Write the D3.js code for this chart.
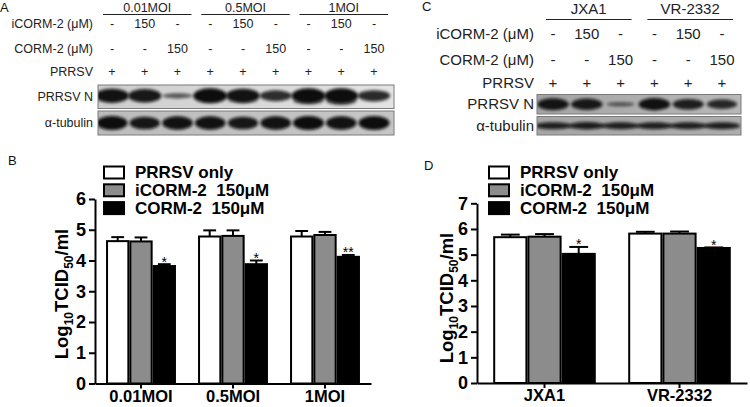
<!DOCTYPE html>
<html><head><meta charset="utf-8">
<script src="https://cdn.jsdelivr.net/npm/d3@7"></script>
<style>
body{margin:0;background:#fff}
svg{display:block}
text{font-family:"Liberation Sans",Arial,sans-serif;white-space:pre}
</style>
</head><body>
<svg id="fig" width="750" height="407"></svg>
<script>
// ---------------- DATA ----------------
const seriesNames = ["PRRSV only", "iCORM-2  150μM", "CORM-2  150μM"];
const seriesFill = ["#ffffff", "#8c8c8c", "#000000"];

const groupsB = ["0.01MOI", "0.5MOI", "1MOI"];
const prrsvOnlyB = [4.63, 4.78, 4.78];
const prrsvOnlyErrB = [0.13, 0.20, 0.18];
const icormB = [4.62, 4.80, 4.83];
const icormErrB = [0.13, 0.18, 0.10];
const cormB = [3.82, 3.88, 4.12];
const cormErrB = [0.06, 0.12, 0.06];
const sigB = ["*", "*", "**"];
const yTicksB = [0, 1, 2, 3, 4, 5, 6];

const strainsD = ["JXA1", "VR-2332"];
const prrsvOnlyD = [5.68, 5.82];
const prrsvOnlyErrD = [0.10, 0.07];
const icormD = [5.70, 5.82];
const icormErrD = [0.10, 0.08];
const cormD = [5.03, 5.26];
const cormErrD = [0.27, 0.02];
const sigD = ["*", "*"];
const yTicksD = [0, 1, 2, 3, 4, 5, 6, 7];

const yTitleMain = ["Log", "10", "TCID", "50", "/ml"];

// Western blot A
const blotGroupsA = ["0.01MOI", "0.5MOI", "1MOI"];
const rowLabels = ["iCORM-2 (μM)", "CORM-2 (μM)", "PRRSV", "PRRSV N", "α-tubulin"];
const icormLanesA = ["-", "150", "-", "-", "150", "-", "-", "150", "-"];
const cormLanesA = ["-", "-", "150", "-", "-", "150", "-", "-", "150"];
const prrsvLanesA = ["+", "+", "+", "+", "+", "+", "+", "+", "+"];
const bandN_A = [0.95, 0.9, 0.35, 1.0, 0.95, 0.72, 1.0, 1.0, 0.75];
const smearN_A = [0.1, 0.1, 0.0, 0.2, 0.35, 0.1, 0.6, 0.7, 0.1];
const bandTub_A = [1.0, 0.9, 0.95, 0.95, 0.9, 0.95, 1.0, 0.95, 1.0];

// Western blot C
const blotGroupsC = ["JXA1", "VR-2332"];
const icormLanesC = ["-", "150", "-", "-", "150", "-"];
const cormLanesC = ["-", "-", "150", "-", "-", "150"];
const prrsvLanesC = ["+", "+", "+", "+", "+", "+"];
const bandN_C = [0.92, 0.88, 0.3, 0.95, 0.82, 0.72];
const bandTub_C = [0.8, 0.82, 0.8, 0.8, 0.8, 0.8];

// ---------------- DRAW ----------------
const svg = d3.select("#fig");
svg.append("rect").attr("width", 750).attr("height", 407).attr("fill", "#fff");

const defs = svg.append("defs");
defs.append("filter").attr("id", "blur").attr("x", "-50%").attr("y", "-100%")
  .attr("width", "200%").attr("height", "300%")
  .append("feGaussianBlur").attr("stdDeviation", 1.7);

function panelLetter(t, x, y) {
  svg.append("text").attr("x", x).attr("y", y).attr("font-size", 13).attr("fill", "#111").text(t);
}

// ---------- blot panel ----------
function drawBlot(cfg) {
  const g = svg.append("g");
  const lx = d3.scalePoint().domain(d3.range(cfg.icorm.length)).range(cfg.laneRange);
  const fs = cfg.fontSize;
  cfg.groups.forEach((name, gi) => {
    const first = lx(gi * 3), last = lx(gi * 3 + 2);
    const x0 = first + cfg.lineExt[0], x1 = last + cfg.lineExt[1];
    g.append("line").attr("x1", x0).attr("x2", x1).attr("y1", cfg.lineY).attr("y2", cfg.lineY)
      .attr("stroke", "#222").attr("stroke-width", 1.2);
    g.append("text").attr("x", (x0 + x1) / 2).attr("y", cfg.headerY).attr("text-anchor", "middle")
      .attr("font-size", cfg.headerSize).attr("fill", "#222").text(name);
  });
  const rowsY = cfg.rowsY;
  rowLabels.forEach((lab, i) => {
    g.append("text").attr("x", cfg.labelX).attr("y", rowsY[i]).attr("text-anchor", "end")
      .attr("dominant-baseline", "central").attr("font-size", fs).attr("fill", "#222").text(lab);
  });
  [cfg.icorm, cfg.corm, cfg.prrsv].forEach((arr, ri) => {
    arr.forEach((v, li) => {
      g.append("text").attr("x", lx(li)).attr("y", rowsY[ri]).attr("text-anchor", "middle")
        .attr("dominant-baseline", "central").attr("font-size", fs).attr("fill", "#222").text(v);
    });
  });
  cfg.boxes.forEach((b, bi) => {
    const id = cfg.id + "clip" + bi;
    defs.append("clipPath").attr("id", id).append("rect")
      .attr("x", cfg.boxX[0]).attr("y", b.y0).attr("width", cfg.boxX[1] - cfg.boxX[0]).attr("height", b.y1 - b.y0);
    const gid = cfg.id + "grad" + bi;
    const gr = defs.append("linearGradient").attr("id", gid);
    gr.append("stop").attr("offset", "0%").attr("stop-color", b.bg[0]);
    gr.append("stop").attr("offset", "100%").attr("stop-color", b.bg[1]);
    g.append("rect").attr("x", cfg.boxX[0]).attr("y", b.y0).attr("width", cfg.boxX[1] - cfg.boxX[0])
      .attr("height", b.y1 - b.y0).attr("fill", `url(#${gid})`);
    const bg = g.append("g").attr("clip-path", `url(#${id})`);
    const cy = (b.y0 + b.y1) / 2 + (b.dy || 0);
    if (b.smear) {
      bg.selectAll(null).data(b.smear).join("ellipse")
        .attr("cx", (d, i) => lx(i)).attr("cy", cy + b.ry * 0.7)
        .attr("rx", b.rx * 0.9).attr("ry", d => b.ry * 0.8 * d + 0.01)
        .attr("fill", "#111").attr("opacity", d => d * 0.8).attr("filter", "url(#blur)");
    }
    bg.selectAll(null).data(b.bands).join("ellipse")
      .attr("cx", (d, i) => lx(i)).attr("cy", cy)
      .attr("rx", d => b.rx * (0.8 + 0.2 * d)).attr("ry", d => b.ry * d)
      .attr("fill", "#0a0a0a").attr("opacity", d => 0.45 + 0.55 * d).attr("filter", "url(#blur)");
    g.append("rect").attr("x", cfg.boxX[0]).attr("y", b.y0).attr("width", cfg.boxX[1] - cfg.boxX[0])
      .attr("height", b.y1 - b.y0).attr("fill", "none").attr("stroke", "#7a7a7a").attr("stroke-width", 1);
  });
}

drawBlot({
  id: "A", groups: blotGroupsA, icorm: icormLanesA, corm: cormLanesA, prrsv: prrsvLanesA,
  laneRange: [112, 374], lineExt: [-9, 14], lineY: 14.5, headerY: 11.5, headerSize: 12.5,
  labelX: 93, fontSize: 12.5, rowsY: [24, 49, 72, 96.5, 122.5],
  boxX: [98, 394],
  boxes: [
    { y0: 85, y1: 108.5, bg: ["#cdcdcd", "#e4e4e4"], bands: bandN_A, smear: smearN_A, rx: 17, ry: 7.5, dy: -1 },
    { y0: 111, y1: 135, bg: ["#bcbcbc", "#c6c6c6"], bands: bandTub_A, rx: 15.5, ry: 7 }
  ]
});

drawBlot({
  id: "C", groups: blotGroupsC, icorm: icormLanesC, corm: cormLanesC, prrsv: prrsvLanesC,
  laneRange: [553, 722], lineExt: [-7, 11], lineY: 19.5, headerY: 14, headerSize: 15,
  labelX: 534, fontSize: 15, rowsY: [33, 59, 82.5, 103.5, 125],
  boxX: [537, 741],
  boxes: [
    { y0: 94.5, y1: 114, bg: ["#a4a4a4", "#b8b8b8"], bands: bandN_C, rx: 16, ry: 6.5 },
    { y0: 116.5, y1: 135, bg: ["#a6a6a6", "#adadad"], bands: bandTub_C, rx: 19, ry: 4.5 }
  ]
});

panelLetter("A", 0, 12);
panelLetter("C", 422, 11);
panelLetter("B", 8, 165);
panelLetter("D", 424, 170);

// ---------- bar chart ----------
function drawBars(cfg) {
  const g = svg.append("g");
  const x = d3.scaleBand().domain(cfg.cats).range(cfg.xRange).paddingInner(0.24).paddingOuter(0.12);
  const xs = d3.scaleBand().domain(d3.range(3)).range([0, x.bandwidth()]);
  const y = d3.scaleLinear().domain([0, d3.max(cfg.ticks)]).range(cfg.yRange);
  const series = [cfg.s0, cfg.s1, cfg.s2];
  const errs = [cfg.e0, cfg.e1, cfg.e2];

  cfg.cats.forEach((c, ci) => {
    series.forEach((s, si) => {
      const bx = x(c) + xs(si), bw = xs.bandwidth();
      const top = y(s[ci]), etop = y(s[ci] + errs[si][ci]);
      const cx = bx + bw / 2, capw = bw * 0.55;
      g.append("line").attr("x1", cx).attr("x2", cx).attr("y1", top).attr("y2", etop)
        .attr("stroke", "#000").attr("stroke-width", 2);
      g.append("line").attr("x1", cx - capw / 2).attr("x2", cx + capw / 2).attr("y1", etop).attr("y2", etop)
        .attr("stroke", "#000").attr("stroke-width", 2);
      g.append("rect").attr("x", bx + 1).attr("y", top).attr("width", bw - 2).attr("height", y(0) - top)
        .attr("fill", seriesFill[si]).attr("stroke", "#000").attr("stroke-width", 2);
      if (si === 2) {
        g.append("text").attr("x", cx).attr("y", etop + 2.5).attr("text-anchor", "middle")
          .attr("font-size", 14).attr("fill", "#000").text(cfg.sig[ci]);
      }
    });
  });

  const ya = g.append("g").attr("transform", `translate(${cfg.xRange[0]},0)`)
    .call(d3.axisLeft(y).tickValues(cfg.ticks).tickFormat(d3.format("d")).tickSize(6).tickSizeOuter(0).tickPadding(3));
  const xa = g.append("g").attr("transform", `translate(0,${cfg.yRange[0]})`)
    .call(d3.axisBottom(x).tickSize(5).tickSizeOuter(0).tickPadding(2));
  [ya, xa].forEach(a => {
    a.select(".domain").attr("stroke-width", 2).attr("stroke", "#000");
    a.selectAll(".tick line").attr("stroke-width", 2).attr("stroke", "#000");
    a.selectAll("text").attr("font-family", "Liberation Sans, Arial, sans-serif").attr("font-weight", "bold").attr("fill", "#000");
  });
  ya.selectAll("text").attr("font-size", 18);
  xa.selectAll("text").attr("font-size", 16.5).attr("dy", "0.68em");

  const t = g.append("text").attr("transform", `translate(${cfg.titleX},${cfg.titleY}) rotate(-90)`)
    .attr("text-anchor", "middle").attr("font-size", 18.5).attr("font-weight", "bold").attr("fill", "#000");
  yTitleMain.forEach((part, i) => {
    const sub = i % 2 === 1;
    const ts = t.append("tspan").text(part);
    if (sub) ts.attr("font-size", 12).attr("dy", 5);
    else if (i > 0) ts.attr("dy", -5);
  });

  const lg = g.append("g");
  seriesNames.forEach((n, i) => {
    lg.append("rect").attr("x", cfg.legX + 1).attr("y", cfg.legY + i * 17.8 + 1).attr("width", 20).attr("height", 12)
      .attr("fill", seriesFill[i]).attr("stroke", "#000").attr("stroke-width", 2);
    lg.append("text").attr("x", cfg.legX + 32).attr("y", cfg.legY + i * 17.8 + 7).attr("dominant-baseline", "central")
      .attr("font-size", 17).attr("font-weight", "bold").attr("fill", "#000").text(n);
  });
}

drawBars({
  cats: groupsB, s0: prrsvOnlyB, s1: icormB, s2: cormB, e0: prrsvOnlyErrB, e1: icormErrB, e2: cormErrB,
  sig: sigB, ticks: yTicksB, xRange: [95, 371], yRange: [383.5, 199],
  titleX: 68, titleY: 294, legX: 103, legY: 165.5
});

drawBars({
  cats: strainsD, s0: prrsvOnlyD, s1: icormD, s2: cormD, e0: prrsvOnlyErrD, e1: icormErrD, e2: cormErrD,
  sig: sigD, ticks: yTicksD, xRange: [477, 747], yRange: [383, 203.3],
  titleX: 453, titleY: 298, legX: 488, legY: 165.5
});
</script>
</body></html>
